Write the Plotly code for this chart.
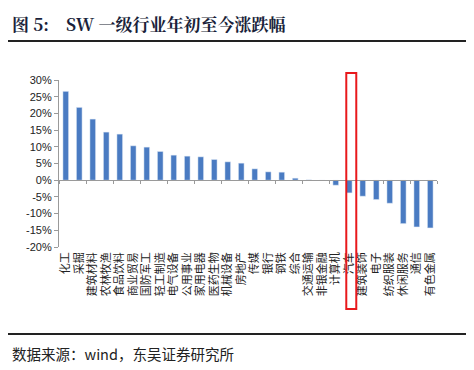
import plotly.graph_objects as go

categories = ["化工", "采掘", "建筑材料", "农林牧渔", "食品饮料", "商业贸易", "国防军工",
              "轻工制造", "电气设备", "公用事业", "家用电器", "医药生物", "机械设备", "房地产",
              "传媒", "银行", "钢铁", "综合", "交通运输", "非银金融", "计算机", "汽车",
              "建筑装饰", "电子", "纺织服装", "休闲服务", "通信", "有色金属"]
values = [26.6, 21.8, 18.3, 14.4, 13.8, 10.3, 9.9,
          8.6, 7.5, 7.2, 7.0, 6.2, 5.5, 5.1,
          3.4, 2.5, 2.4, 0.6, 0.1, -0.1, -1.5, -3.8,
          -4.8, -5.8, -6.9, -13.0, -14.0, -14.3]
highlight = "汽车"
y_ticks = [30, 25, 20, 15, 10, 5, 0, -5, -10, -15, -20]

OFF = 8  # browser body margin
W, H = 474 - OFF, 370 - OFF
L, R, T, B = 59 - OFF, 37, 80 - OFF, 123
pw, ph = W - L - R, H - T - B


def px_x(x):
    return (x - OFF - L) / pw


def px_y(y):
    return (H - B - (y - OFF)) / ph


fig = go.Figure()
fig.add_trace(go.Bar(x=categories, y=[v / 100 for v in values], marker_color="#4A7BC2",
                     width=0.42, xaxis="x", yaxis="y", showlegend=False))
fig.add_trace(go.Scatter(x=categories, y=[0] * len(categories), mode="markers",
                         marker=dict(opacity=0), xaxis="x2", yaxis="y",
                         showlegend=False, hoverinfo="skip"))

hi = categories.index(highlight)
fig.add_shape(type="rect", xref="x", yref="paper", x0=hi - 0.22, x1=hi + 0.52,
              y0=px_y(309), y1=px_y(73), line=dict(color="#E8191C", width=2))
for yy in (41, 334):
    fig.add_shape(type="line", xref="paper", yref="paper", x0=px_x(0), x1=px_x(474),
                  y0=px_y(yy), y1=px_y(yy), line=dict(color="#222", width=2))

fig.add_annotation(xref="paper", yref="paper", x=px_x(10), y=px_y(23), xanchor="left",
                   yanchor="middle", showarrow=False,
                   text="<b>图 5:    SW 一级行业年初至今涨跌幅</b>",
                   font=dict(family="Noto Serif CJK SC, Noto Sans CJK SC", size=17, color="#1A1F3A"))
fig.add_annotation(xref="paper", yref="paper", x=px_x(10), y=px_y(353), xanchor="left",
                   yanchor="middle", showarrow=False,
                   text="数据来源：wind，东吴证券研究所",
                   font=dict(family="Noto Sans CJK SC", size=14.5, color="#222"))

fig.update_layout(
    width=W, height=H, margin=dict(l=L, r=R, t=T, b=B, pad=0),
    paper_bgcolor="white", plot_bgcolor="white",
    xaxis=dict(type="category", categoryarray=categories, categoryorder="array",
               tickangle=-90, showline=False, ticks="", showgrid=False,
               tickfont=dict(family="Noto Sans CJK SC", size=11, color="#222"),
               range=[-0.5, len(categories) - 0.5], ticklabelstandoff=2),
    xaxis2=dict(type="category", categoryarray=categories, categoryorder="array",
                overlaying="x", anchor="free", position=20 / 50, matches="x",
                showticklabels=False, showline=True, linecolor="#9A9A9A", linewidth=1.2,
                ticks="outside", tickson="boundaries", ticklen=3, tickcolor="#9A9A9A",
                showgrid=False, range=[-0.5, len(categories) - 0.5]),
    yaxis=dict(range=[-0.20, 0.30], tickvals=[v / 100 for v in y_ticks],
               ticktext=[f"{v}%" for v in y_ticks], showgrid=False, zeroline=False,
               showline=True, linecolor="#9A9A9A", linewidth=1.2, ticks="outside",
               ticklen=4, tickcolor="#9A9A9A",
               tickfont=dict(family="Liberation Sans, Arial", size=11, color="#222")),
)

fig.write_html("out.html")
